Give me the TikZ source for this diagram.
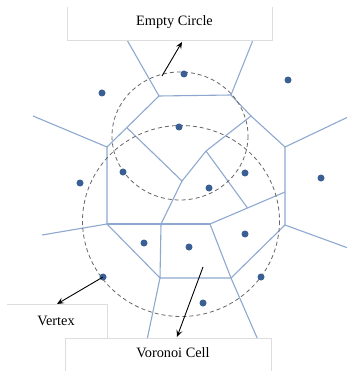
\documentclass[tikz,border=0pt]{standalone}
\usepackage{fontspec}
\setmainfont{Liberation Serif}
\usetikzlibrary{arrows.meta,calc}
\definecolor{edgeblue}{HTML}{8EA9D0}
\definecolor{siteblue}{HTML}{3A5F94}
\definecolor{boxgray}{HTML}{DDDDDD}
\begin{document}
\begin{tikzpicture}[x=1pt,y=-1pt,
  vedge/.style={draw=edgeblue,line width=1.1pt},
  site/.style={fill=siteblue},
  ecirc/.style={draw=black!60,line width=0.8pt,dash pattern=on 4pt off 3pt},
  callout/.style={draw=black,line width=0.9pt,-{Stealth[length=7pt,width=6pt,inset=3pt]}},
  labelbox/.style={fill=white,inner sep=0pt,outer sep=0pt},
  boxedge/.style={draw=boxgray,line width=1pt},
  labeltext/.style={font=\fontsize{14.3}{16}\selectfont,inner sep=0pt}]
\useasboundingbox (0,0) rectangle (346,371);
\fill[white] (0,0) rectangle (346,371);
% Voronoi vertices
\coordinate (A0) at (127,40);
\coordinate (B0) at (253,40);
\coordinate (A) at (159,96);
\coordinate (B) at (231,95);
\coordinate (C) at (251,116);
\coordinate (D) at (285,147);
\coordinate (D0) at (348,117);
\coordinate (E) at (285,192);
\coordinate (F) at (285,225);
\coordinate (F0) at (348,248);
\coordinate (G) at (107,147);
\coordinate (G0) at (33,116);
\coordinate (H) at ($(A)!0.62!(G)$);
\coordinate (I) at (182,181);
\coordinate (J) at (206,151);
\coordinate (M) at (210,224);
\coordinate (L) at ($(E)!0.5!(M)$);
\coordinate (N) at (161,224);
\coordinate (O) at (107,224);
\coordinate (O0) at (42,235);
\coordinate (P) at (160,278);
\coordinate (Q) at (231,278);
\coordinate (P0) at (147,340);
\coordinate (Q0) at (258,340);
% Voronoi edges
\draw[vedge] (A0) -- (A) -- (B) -- (B0);
\draw[vedge] (B) -- (C) -- (D) -- (D0);
\draw[vedge] (D) -- (E) -- (F) -- (F0);
\draw[vedge] (G0) -- (G) -- (H) -- (A);
\draw[vedge] (H) -- (I) -- (J) -- (C);
\draw[vedge] (J) -- (L);
\draw[vedge] (E) -- (L) -- (M);
\draw[vedge] (G) -- (O) -- (O0);
\draw[vedge] (O) -- (N) -- (M);
\draw[vedge] (O) -- (P) -- (Q) -- (F);
\draw[vedge] (N) -- (I);
\draw[vedge] (N) -- (P);
\draw[vedge] (M) -- (Q);
\draw[vedge] (P) -- (P0);
\draw[vedge] (Q) -- (Q0);
% empty circles
\draw[ecirc] (180,136) ellipse [x radius=68, y radius=64];
\draw[ecirc] (181,221) ellipse [x radius=98.5, y radius=95.5];
% sites
\foreach \p [count=\i] in {(184,74),(288,80),(102,93),(179,127),(123,172),(80,183),(245,173),(321,178),(209,188),(144,243),(189,247),(245,234),(103,277),(261,277),(203,303)}
  \fill[site] \p circle [radius=3.5];
% label boxes
\node[labelbox,minimum width=205,minimum height=34,anchor=north west] (ecbox) at (67,7) {};
\draw[boxedge] (ecbox.north west) -- (ecbox.south west) -- (ecbox.south east) -- (ecbox.north east);
\node[labeltext] (ectext) at (174.5,22) {Empty Circle};
\node[labelbox,minimum width=100,minimum height=39,anchor=north west] (vxbox) at (7,304) {};
\draw[boxedge] (vxbox.north west) -- (vxbox.north east) -- (vxbox.south east);
\node[labeltext] (vxtext) at (56,321) {Vertex};
\node[labelbox,minimum width=206,minimum height=40,anchor=north west] (vcbox) at (65,338) {};
\draw[boxedge] (vcbox.south west) -- (vcbox.north west) -- (vcbox.north east) -- (vcbox.south east);
\node[labeltext] (vctext) at (173,353) {Voronoi Cell};
% callout arrows
\coordinate (ecstart) at (162,76);
\coordinate (ecend) at (182,42);
\coordinate (vxstart) at (103,277);
\coordinate (vxend) at (57,304);
\coordinate (vcstart) at (203,267);
\coordinate (vcend) at (177,337);
\draw[callout] (ecstart) -- (ecend);
\draw[callout] (vxstart) -- (vxend);
\draw[callout] (vcstart) -- (vcend);
\end{tikzpicture}
\end{document}
